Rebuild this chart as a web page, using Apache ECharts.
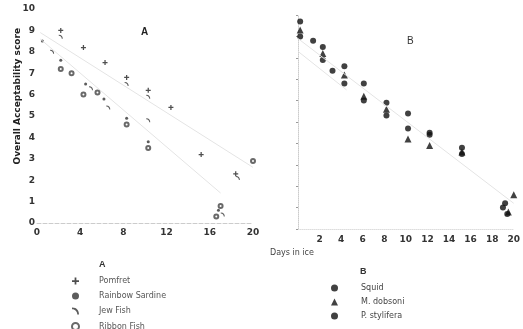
<!DOCTYPE html>
<html>
<head>
<meta charset="utf-8">
<script src="https://cdn.jsdelivr.net/npm/echarts@6/dist/echarts.min.js"></script>
<style>
  html, body { margin: 0; padding: 0; background: #fff; }
  #chart { width: 523px; height: 329px; }
</style>
</head>
<body>
<div id="chart"></div>
<script>
// panel A: fish, [day, score]
const pomfret = [[2.2, 9.0], [4.3, 8.2], [6.3, 7.5], [8.3, 6.8], [10.3, 6.2], [12.4, 5.4], [15.2, 3.2], [18.4, 2.3]];
const rainbowSardine = [[0.5, 8.5], [2.2, 7.6], [4.5, 6.5], [6.2, 5.8], [8.3, 4.9], [10.3, 3.8], [16.8, 0.6]];
const jewFish = [[1.4, 8.0], [2.2, 8.7], [5.0, 6.3], [6.6, 5.4], [8.3, 6.5], [10.3, 5.9], [10.3, 4.8], [18.6, 2.1], [17.2, 0.4]];
const ribbonFish = [[2.2, 7.2], [3.2, 7.0], [4.3, 6.0], [5.6, 6.1], [8.3, 4.6], [10.3, 3.5], [17.0, 0.8], [20.0, 2.9], [16.6, 0.3]];

// panel B: shellfish
const squid = [[0.2, 9.7], [1.4, 8.8], [2.3, 8.5], [3.2, 7.4], [4.3, 7.6], [6.1, 6.8], [8.2, 5.9], [10.2, 5.4], [12.2, 4.5], [15.2, 3.8], [19.2, 1.2]];
const mDobsoni = [[0.2, 9.3], [2.3, 8.2], [4.3, 7.2], [6.1, 6.2], [8.2, 5.6], [10.2, 4.2], [12.2, 3.9], [15.2, 3.6], [19.5, 0.8], [20.0, 1.6]];
const pStylifera = [[0.2, 9.0], [2.3, 7.9], [4.3, 6.8], [6.1, 6.0], [8.2, 5.3], [10.2, 4.7], [12.2, 4.4], [15.2, 3.5], [19.0, 1.0], [19.4, 0.7]];

// faint fitted lines
const fitA1 = [[0.3, 8.6], [17, 1.4]];
const fitA2 = [[0.3, 8.9], [20, 2.6]];
const fitB1 = [[0, 8.9], [20, 1.2]];
const fitB2 = [[0, 8.3], [4.5, 6.5]];

const namesA = ['Pomfret', 'Rainbow Sardine', 'Jew Fish', 'Ribbon Fish'];
const namesB = ['Squid', 'M. dobsoni', 'P. stylifera'];

const plus = 'path://M3,0H5V3H8V5H5V8H3V5H0V3H3Z';
const hook = 'path://M0,0C6,0 8,4 8,8H6C6,5 4,2 0,2Z';

const axisText = { fontSize: 9, color: '#333', fontFamily: 'DejaVu Sans', fontWeight: 'bold' };

function scatter(name, data, idx, symbol, size, color) {
  return {
    name: name, type: 'scatter', xAxisIndex: idx, yAxisIndex: idx,
    data: data, symbol: symbol, symbolSize: size,
    itemStyle: { color: color, borderWidth: symbol === 'emptyCircle' ? 1 : 0 },
  };
}
function fit(data, idx) {
  return {
    type: 'line', xAxisIndex: idx, yAxisIndex: idx, data: data, symbol: 'none', silent: true,
    lineStyle: { color: '#e4e4e4', width: 1 },
  };
}

const myChart = echarts.init(document.getElementById('chart'));
const option = {
  animation: false,
  grid: [
    { left: 37, top: 9, width: 216, height: 214 },
    { left: 298, top: 15, width: 218, height: 214 },
  ],
  xAxis: [
    {
      gridIndex: 0, type: 'value', min: 0, max: 20, interval: 4,
      axisLine: { lineStyle: { color: '#ccc', type: 'dashed' } },
      axisTick: { show: false }, splitLine: { show: false },
      axisLabel: { ...axisText, margin: 5 },
    },
    {
      gridIndex: 1, type: 'value', min: 0, max: 20, interval: 2,
      axisLine: { lineStyle: { color: '#ddd', type: 'dotted' } },
      axisTick: { show: false }, splitLine: { show: false },
      axisLabel: { ...axisText, margin: 6, formatter: (v) => (v === 0 ? '' : v) },
    },
  ],
  yAxis: [
    {
      gridIndex: 0, type: 'value', min: 0, max: 10, interval: 1,
      axisLine: { show: false }, axisTick: { show: false }, splitLine: { show: false },
      axisLabel: { ...axisText, margin: 2 },
    },
    {
      gridIndex: 1, type: 'value', min: 0, max: 10, interval: 1,
      axisLine: { show: true, lineStyle: { color: '#ccc', type: 'dotted' } },
      axisTick: { show: true, length: 2, lineStyle: { color: '#999' } },
      splitLine: { show: false }, axisLabel: { show: false },
    },
  ],
  legend: [
    {
      data: namesA, orient: 'vertical', left: 66, top: 272, height: 120, itemGap: 7,
      itemWidth: 7, itemHeight: 7,
      textStyle: { fontSize: 8, color: '#555', fontFamily: 'DejaVu Sans', padding: [0, 0, 0, 15] },
    },
    {
      data: namesB, orient: 'vertical', left: 326, top: 279, height: 80, itemGap: 6,
      itemWidth: 7, itemHeight: 7,
      textStyle: { fontSize: 8, color: '#444', fontFamily: 'DejaVu Sans', padding: [0, 0, 0, 18] },
    },
  ],
  graphic: [
    { type: 'text', left: 13, top: 28, rotation: Math.PI / 2,
      style: { text: 'Overall Acceptability score', fontSize: 9, fontWeight: 'bold', fill: '#222', fontFamily: 'DejaVu Sans' } },
    { type: 'text', left: 270, top: 249,
      style: { text: 'Days in ice', fontSize: 8, fill: '#444', fontFamily: 'DejaVu Sans' } },
    { type: 'text', left: 141, top: 27, style: { text: 'A', fontSize: 10, fontWeight: 'bold', fill: '#222' } },
    { type: 'text', left: 407, top: 36, style: { text: 'B', fontSize: 10, fill: '#333' } },
    { type: 'text', left: 99, top: 260, style: { text: 'A', fontSize: 9, fontWeight: 'bold', fill: '#333' } },
    { type: 'text', left: 360, top: 267, style: { text: 'B', fontSize: 9, fontWeight: 'bold', fill: '#333' } },
  ],
  series: [
    fit(fitA1, 0), fit(fitA2, 0), fit(fitB1, 1), fit(fitB2, 1),
    scatter('Pomfret', pomfret, 0, plus, 5, '#222'),
    scatter('Rainbow Sardine', rainbowSardine, 0, 'circle', 3, '#333'),
    scatter('Jew Fish', jewFish, 0, hook, 4, '#333'),
    scatter('Ribbon Fish', ribbonFish, 0, 'emptyCircle', 4, '#444'),
    scatter('Squid', squid, 1, 'circle', 6, '#111'),
    scatter('M. dobsoni', mDobsoni, 1, 'triangle', 7, '#111'),
    scatter('P. stylifera', pStylifera, 1, 'circle', 6, '#111'),
  ],
};
option && myChart.setOption(option);
</script>
</body>
</html>
